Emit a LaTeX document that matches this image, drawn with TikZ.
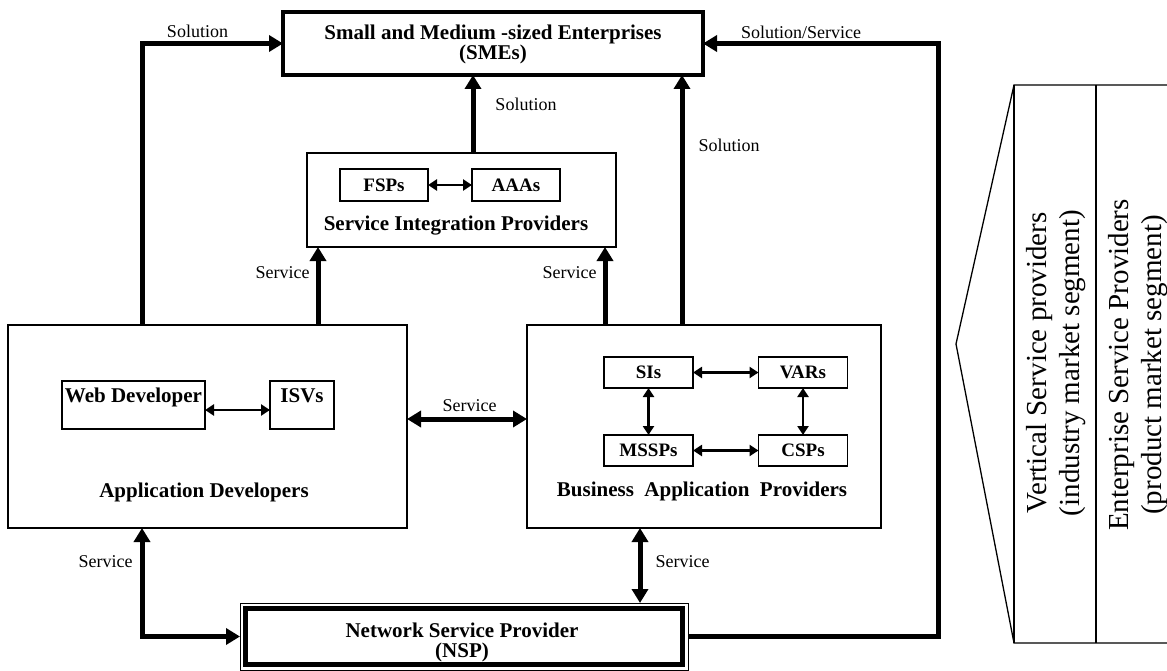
\documentclass[tikz,border=0pt]{standalone}
\usepackage{fontspec}
\setmainfont{Liberation Serif}
\usetikzlibrary{arrows.meta}
\begin{document}
\begin{tikzpicture}[x=1pt,y=-1pt,
  bigbox/.style={draw, outer sep=0pt, inner sep=0pt, line width=#1},
  smallbox/.style={draw, outer sep=0pt, inner sep=0pt, line width=1.3pt,
    font=\bfseries\fontsize{19}{20}\selectfont},
  title/.style={font=\bfseries\fontsize{21}{20}\selectfont, align=center, inner sep=0pt},
  lbl/.style={font=\fontsize{18}{18}\selectfont, inner sep=0pt},
  side/.style={font=\fontsize{29}{33}\selectfont, align=center, inner sep=0pt, rotate=90},
  flow/.style={line width=5pt, -{Triangle[length=14pt,width=16pt]}},
  flowtwo/.style={line width=5pt, {Triangle[length=14pt,width=16pt]}-{Triangle[length=14pt,width=16pt]}},
  link/.style={line width=2.4pt, {Triangle[length=9pt,width=11pt]}-{Triangle[length=9pt,width=11pt]}},
  frame/.style={line width=1.3pt}
]
\fill[white] (0,0) rectangle (1167,671);
\useasboundingbox (0,0) rectangle (1167,671);

% SMEs
\node[bigbox=3.2pt, minimum width=420pt, minimum height=63pt] (sme) at (493,43.5) {};
\node[title] (smel) at (493,44) {Small and Medium -sized Enterprises\\(SMEs)};

% Service Integration Providers
\node[bigbox=2.4pt, minimum width=309pt, minimum height=94pt] (sip) at (461.5,200) {};
\node[smallbox, minimum width=88pt, minimum height=32pt] (fsp) at (384,185) {FSPs};
\node[smallbox, minimum width=88pt, minimum height=32pt] (aaa) at (516,185) {AAAs};
\node[title, anchor=base] (sipl) at (456,230) {Service Integration Providers};

% Application Developers
\node[bigbox=2.8pt, minimum width=399pt, minimum height=203pt] (appdev) at (207.5,426.5) {};
\node[smallbox, minimum width=143pt, minimum height=48pt] (web) at (133.5,405) {};
\node[title, anchor=base] (webl) at (133.5,402) {Web Developer};
\node[smallbox, minimum width=64pt, minimum height=48pt] (isv) at (302,405) {};
\node[title, anchor=base] (isvl) at (302,402) {ISVs};
\node[title, anchor=base] (appl) at (204,497) {Application Developers};

% Business Application Providers
\node[bigbox=2.8pt, minimum width=354pt, minimum height=203pt] (bap) at (704,426.5) {};
\node[smallbox, minimum width=89pt, minimum height=31pt] (sis) at (648.5,372.5) {SIs};
\node[smallbox, minimum width=89pt, minimum height=31pt] (vars) at (803,372.5) {VARs};
\node[smallbox, minimum width=89pt, minimum height=31pt] (mssp) at (648.5,450.5) {MSSPs};
\node[smallbox, minimum width=89pt, minimum height=31pt] (csp) at (803,450.5) {CSPs};
\node[title, anchor=base] (bapl) at (702,496) {Business\ \ Application\ \ Providers};

% Network Service Provider
\node[bigbox=1pt, minimum width=448pt, minimum height=67pt] (nsp) at (464,636.5) {};
\draw[line width=5pt] ([shift={(5.5pt,-5.5pt)}]nsp.north west) rectangle ([shift={(-5.5pt,5.5pt)}]nsp.south east);
\node[title] (nspl) at (462,642) {Network Service Provider\\(NSP)};

% inner links
\draw[link] (fsp) -- (aaa);
\draw[link] ([yshift=-5pt]web.east) -- ([yshift=-5pt]isv.west);
\draw[link] (sis) -- (vars);
\draw[link] (mssp) -- (csp);
\draw[link] (sis) -- (mssp);
\draw[link] (vars) -- (csp);

% x positions of connectors
\coordinate (xa) at (142,0);
\coordinate (xb) at (318,0);
\coordinate (xc) at (473,0);
\coordinate (xd) at (605,0);
\coordinate (xe) at (682,0);
\coordinate (xf) at (938,0);
\coordinate (xg) at (640,0);

% thick connectors
\draw[flow] (xa |- appdev.north) |- (sme.west);
\draw[flow] (xc |- sip.north) -- (xc |- sme.south);
\draw[flow] (xe |- bap.north) -- (xe |- sme.south);
\draw[flow] (nsp.east) -| (xf |- sme.east) -- (sme.east);
\draw[flow] (xb |- appdev.north) -- (xb |- sip.south);
\draw[flow] (xd |- bap.north) -- (xd |- sip.south);
\draw[flowtwo] ([yshift=7.5pt]appdev.east) -- ([yshift=7.5pt]bap.west);
\draw[flowtwo] (xa |- appdev.south) |- (nsp.west);
\draw[flowtwo] (xg |- bap.south) -- (xg |- nsp.north);

% connector labels
\node[lbl] (l1) at (197.5,31) {Solution};
\node[lbl] (l2) at (801,32) {Solution/Service};
\node[lbl] (l3) at (526,104) {Solution};
\node[lbl] (l4) at (729,145) {Solution};
\node[lbl] (l5) at (282.5,273) {Service};
\node[lbl] (l6) at (569.5,273) {Service};
\node[lbl] (l7) at (469.5,406) {Service};
\node[lbl] (l8) at (105.5,562) {Service};
\node[lbl] (l9) at (682.5,562) {Service};

% side bracket
\draw[frame] (1170,85) -- (1014,85) -- (956,344) -- (1014,643) -- (1170,643);
\draw[frame] (1014,85) -- (1014,643);
\draw[frame] (1096,85) -- (1096,643);
\node[side] (vsp) at (1056,363) {Vertical Service providers\\(industry market segment)};
\node[side] (esp) at (1138,365) {Enterprise Service Providers\\(product market segment)};
\end{tikzpicture}
\end{document}
